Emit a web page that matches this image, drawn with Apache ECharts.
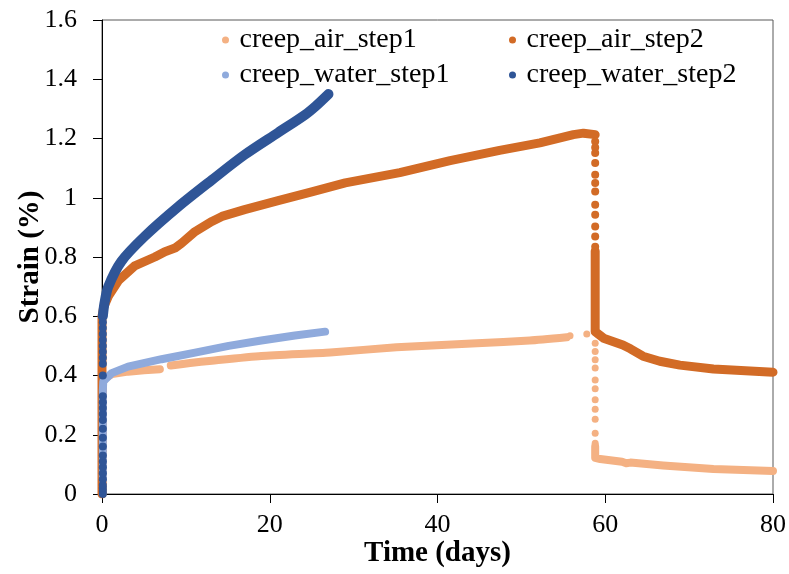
<!DOCTYPE html>
<html><head><meta charset="utf-8">
<script src="https://cdn.jsdelivr.net/npm/echarts@6/dist/echarts.min.js"></script>
<style>html,body{margin:0;padding:0;background:#fff}#c{width:789px;height:574px}</style>
</head><body><div id="c"></div>
<script>
// ---- data ----
const xTicks = [0, 20, 40, 60, 80];
const yTicks = [0, 0.2, 0.4, 0.6, 0.8, 1, 1.2, 1.4, 1.6];

// creep_air_step1
const airS1aDays   = [0.05, 0.05, 0.3, 1.2, 3.1, 5.0, 6.9];
const airS1aStrain = [0.0, 0.37, 0.39, 0.405, 0.413, 0.418, 0.421];
const airS1bDays   = [8.2, 10.5, 13.1, 19.0, 27.2, 35.1, 44.7, 51.0, 55.4];
const airS1bStrain = [0.434, 0.442, 0.45, 0.466, 0.478, 0.495, 0.509, 0.518, 0.529];
const airS1DotDays   = [55.8, 57.8, 58.8, 58.8, 58.8, 58.8, 58.8, 58.8, 58.8, 58.8, 58.8, 58.8, 58.8];
const airS1DotStrain = [0.534, 0.54, 0.509, 0.481, 0.453, 0.425, 0.385, 0.355, 0.318, 0.286, 0.252, 0.205, 0.171];
const airS1cDays   = [58.8, 58.8, 59.4, 62.0, 62.5, 63.0, 66.9, 72.9, 80.0];
const airS1cStrain = [0.16, 0.122, 0.118, 0.109, 0.104, 0.106, 0.096, 0.084, 0.078];

// creep_air_step2
const airS2aDays   = [0, 0, 0.2, 0.75, 1.95, 3.9, 6.3, 7.5, 8.7, 9.5, 11.1, 13.1, 14.3, 17.0, 21.0, 25.0, 29.0, 35.5, 41.5, 47.4, 52.2, 56.2, 57.4, 58.8];
const airS2aStrain = [0, 0.6, 0.63, 0.667, 0.72, 0.77, 0.80, 0.818, 0.83, 0.847, 0.886, 0.92, 0.937, 0.96, 0.99, 1.02, 1.05, 1.085, 1.125, 1.16, 1.185, 1.213, 1.218, 1.213];
const airS2DotDays   = [58.8, 58.8, 58.8, 58.8, 58.8, 58.8, 58.8, 58.8, 58.8, 58.8, 58.8, 58.8];
const airS2DotStrain = [1.19, 1.17, 1.151, 1.117, 1.078, 1.05, 1.021, 0.976, 0.943, 0.903, 0.869, 0.835];
const airS2bDays   = [58.8, 58.8, 59.8, 62.1, 63.0, 64.5, 66.5, 68.9, 72.9, 80.0];
const airS2bStrain = [0.82, 0.548, 0.526, 0.503, 0.49, 0.465, 0.448, 0.435, 0.422, 0.411];

// creep_water_step1
const waterS1Days   = [0.1, 0.1, 0.15, 1.15, 3.1, 7.1, 11.1, 15.1, 19.0, 23.0, 26.6];
const waterS1Strain = [0.05, 0.35, 0.38, 0.408, 0.43, 0.455, 0.477, 0.50, 0.518, 0.535, 0.548];

// creep_water_step2
const waterS2DotDays   = [0.1, 0.1, 0.1, 0.1, 0.1, 0.1, 0.1, 0.1, 0.1, 0.1, 0.1, 0.1, 0.1, 0.1, 0.1, 0.1, 0.1, 0.1, 0.1, 0.1, 0.1, 0.1, 0.1, 0.1, 0.1, 0.1];
const waterS2DotStrain = [0.0, 0.01, 0.02, 0.03, 0.05, 0.07, 0.09, 0.11, 0.13, 0.16, 0.19, 0.22, 0.25, 0.27, 0.29, 0.31, 0.33, 0.40, 0.44, 0.46, 0.48, 0.50, 0.52, 0.54, 0.56, 0.58];
const waterS2Days   = [0.1, 0.3, 0.75, 2.3, 5.1, 9.1, 13.1, 17.0, 21.0, 24.2, 25.5, 27.0];
const waterS2Strain = [0.6, 0.645, 0.70, 0.785, 0.87, 0.97, 1.06, 1.145, 1.22, 1.28, 1.31, 1.35];

// ---- chart ----
const C_AIR1 = '#F4B183', C_AIR2 = '#D26B26', C_W1 = '#8FAADC', C_W2 = '#2F5597';
const zip = (xs, ys) => xs.map((x, i) => [x, ys[i]]);
const FONT = 'Liberation Serif';

function lineSeries(name, color, xs, ys, width, z, smooth) {
  return {
    name, type: 'line', data: zip(xs, ys), showSymbol: false, symbol: 'circle', z: z || 2,
    smooth: smooth || false,
    itemStyle: { color }, lineStyle: { color, width: width || 8, cap: 'round', join: 'round' },
    silent: true
  };
}
function dotSeries(name, color, xs, ys, size, z) {
  return {
    name, type: 'scatter', data: zip(xs, ys), symbol: 'circle', symbolSize: size || 7, z: z || 2,
    itemStyle: { color, opacity: 1 }, silent: true
  };
}

const legendText = { fontFamily: FONT, fontSize: 28, color: '#000', lineHeight: 30 };
const chart = echarts.init(document.getElementById('c'), null, { renderer: 'canvas' });
chart.setOption({
  animation: false,
  backgroundColor: '#fff',
  grid: { left: 102, right: 16, top: 20, bottom: 80, show: true, borderColor: '#595959', borderWidth: 1,
    containLabel: false, outerBoundsMode: 'none' },
  legend: [
    { orient: 'vertical', left: 222, top: 25, padding: 0, itemGap: 5, itemWidth: 18, itemHeight: 7,
      textStyle: legendText, selectedMode: false,
      data: [{ name: 'creep_air_step1', icon: 'circle' }, { name: 'creep_water_step1', icon: 'circle' }] },
    { orient: 'vertical', left: 509, top: 25, padding: 0, itemGap: 5, itemWidth: 18, itemHeight: 7,
      textStyle: legendText, selectedMode: false,
      data: [{ name: 'creep_air_step2', icon: 'circle' }, { name: 'creep_water_step2', icon: 'circle' }] }
  ],
  xAxis: {
    type: 'value', min: xTicks[0], max: xTicks[xTicks.length - 1], interval: xTicks[1] - xTicks[0],
    name: 'Time (days)', nameLocation: 'middle', nameGap: 45, nameMoveOverlap: false,
    nameTextStyle: { fontFamily: FONT, fontSize: 29, fontWeight: 'bold', color: '#000' },
    axisLine: { onZero: false, lineStyle: { color: '#000', width: 1 } },
    axisTick: { show: true, inside: false, length: 9, lineStyle: { color: '#000' } },
    axisLabel: { fontFamily: FONT, fontSize: 26, color: '#000', margin: 18 },
    splitLine: { show: false }
  },
  yAxis: {
    type: 'value', min: yTicks[0], max: yTicks[yTicks.length - 1], interval: yTicks[1] - yTicks[0],
    name: 'Strain (%)', nameLocation: 'middle', nameGap: 57, nameRotate: 90, nameMoveOverlap: false,
    nameTextStyle: { fontFamily: FONT, fontSize: 29, fontWeight: 'bold', color: '#000' },
    axisLine: { show: true, onZero: false, lineStyle: { color: '#000', width: 1 } },
    axisTick: { show: true, inside: false, length: 9, lineStyle: { color: '#000' } },
    axisLabel: { fontFamily: FONT, fontSize: 26, color: '#000', margin: 25,
      formatter: v => String(Math.round(v * 10) / 10) },
    splitLine: { show: false }
  },
  series: [
    lineSeries('creep_air_step1', C_AIR1, airS1aDays, airS1aStrain, 8, 2),
    lineSeries('creep_air_step1', C_AIR1, airS1bDays, airS1bStrain, 8, 2, 0.2),
    dotSeries('creep_air_step1', C_AIR1, airS1DotDays, airS1DotStrain, 7, 2),
    lineSeries('creep_air_step1', C_AIR1, airS1cDays, airS1cStrain, 8, 2),
    lineSeries('creep_air_step2', C_AIR2, airS2aDays, airS2aStrain, 9, 3),
    dotSeries('creep_air_step2', C_AIR2, airS2DotDays, airS2DotStrain, 8, 3),
    lineSeries('creep_air_step2', C_AIR2, airS2bDays, airS2bStrain, 9, 3),
    lineSeries('creep_water_step1', C_W1, waterS1Days, waterS1Strain, 8, 4),
    dotSeries('creep_water_step2', C_W2, waterS2DotDays, waterS2DotStrain, 8, 5),
    lineSeries('creep_water_step2', C_W2, waterS2Days, waterS2Strain, 10, 5, 0.3)
  ]
});
</script></body></html>
